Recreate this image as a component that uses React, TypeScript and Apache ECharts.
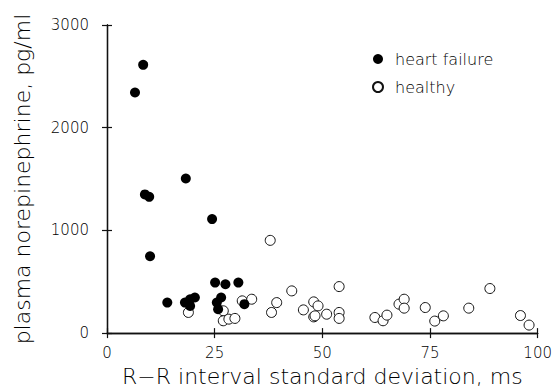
import React, { useEffect, useRef } from "react";
import * as echarts from "echarts";

const hfX = [6.5, 8.4, 8.8, 9.8, 18.3, 24.4, 10.0, 25.1, 27.5, 30.5, 14.0, 18.1, 19.3, 20.4, 19.3, 26.5, 25.5, 25.8, 31.9];
const hfY = [2343, 2612, 1350, 1327, 1505, 1110, 748, 492, 476, 492, 297, 297, 330, 347, 265, 347, 297, 233, 282];

const healthyX = [37.9, 18.9, 27.0, 27.0, 28.3, 29.7, 31.4, 33.6, 39.4, 38.2, 42.9, 45.6, 48.0, 49.0, 48.0, 48.3, 51.0, 53.9, 53.9, 53.9, 62.2, 64.1, 65.0, 67.8, 69.0, 69.0, 73.9, 76.1, 78.1, 84.0, 88.9, 96.0, 98.0];
const healthyY = [903, 201, 217, 120, 136, 143, 314, 330, 297, 201, 411, 226, 304, 265, 158, 168, 184, 453, 201, 143, 152, 120, 175, 282, 330, 243, 249, 117, 168, 243, 434, 171, 78];

const xTicks = [0, 25, 50, 75, 100];
const yTicks = [0, 1000, 2000, 3000];

const FONT = "DejaVu Sans";

export default function App() {
  const ref = useRef<HTMLDivElement>(null);
  useEffect(() => {
    if (!ref.current) return;
    const chart = echarts.init(ref.current, null, { renderer: "svg" });
    const axisLine = { show: true, lineStyle: { color: "#111", width: 1.3 } };
    const axisTick = { show: true, inside: false, length: 5, lineStyle: { color: "#111", width: 1.2 } };
    chart.setOption({
      animation: false,
      backgroundColor: "#fff",
      grid: { left: 107, right: 17, top: 25, bottom: 58 },
      legend: {
        orient: "vertical",
        left: 367,
        top: 46,
        itemWidth: 10,
        itemHeight: 10,
        itemGap: 12,
        textStyle: { fontFamily: FONT, fontSize: 16, color: "#000", fontWeight: 300, padding: [0, 0, 0, 7] },
        data: [
          { name: "heart failure", icon: "circle" },
          { name: "healthy", icon: "circle" },
        ],
      },
      xAxis: [
        {
          type: "value",
          position: "bottom",
          min: 0,
          max: 100,
          interval: 25,
          axisLine,
          axisTick,
          splitLine: { show: false },
          axisLabel: {
            fontFamily: FONT,
            fontSize: 15,
            color: "#000",
            fontWeight: 300,
            margin: 12,
            formatter: (v: number) => (xTicks.includes(v) ? String(v) : ""),
          },
          name: "R\u2212R interval standard deviation, ms",
          nameLocation: "middle",
          nameGap: 30,
          nameTextStyle: { fontFamily: FONT, fontSize: 22, color: "#000", fontWeight: 300 },
        },
        {
          type: "value",
          position: "top",
          min: 0,
          max: 100,
          interval: 25,
          axisLine,
          axisTick,
          splitLine: { show: false },
          axisLabel: { show: false },
        },
      ],
      yAxis: [
        {
          type: "value",
          position: "left",
          min: 0,
          max: 3000,
          interval: 1000,
          axisLine,
          axisTick,
          splitLine: { show: false },
          axisLabel: {
            fontFamily: FONT,
            fontSize: 15,
            color: "#000",
            fontWeight: 300,
            margin: 18,
            formatter: (v: number) => (yTicks.includes(v) ? String(v) : ""),
          },
          name: "plasma norepinephrine, pg/ml",
          nameLocation: "middle",
          nameGap: 74,
          nameTextStyle: { fontFamily: FONT, fontSize: 22, color: "#000", fontWeight: 300 },
        },
        {
          type: "value",
          position: "right",
          min: 0,
          max: 3000,
          interval: 1000,
          axisLine,
          axisTick,
          splitLine: { show: false },
          axisLabel: { show: false },
        },
      ],
      series: [
        {
          name: "healthy",
          type: "scatter",
          xAxisIndex: 0,
          yAxisIndex: 0,
          symbol: "circle",
          symbolSize: 10,
          itemStyle: { color: "#fff", borderColor: "#111", borderWidth: 1, opacity: 1 },
          data: healthyX.map((x, i) => [x, healthyY[i]]),
          z: 2,
        },
        {
          name: "heart failure",
          type: "scatter",
          xAxisIndex: 0,
          yAxisIndex: 0,
          symbol: "circle",
          symbolSize: 10,
          itemStyle: { color: "#000", opacity: 1 },
          data: hfX.map((x, i) => [x, hfY[i]]),
          z: 3,
        },
      ],
    });
    return () => chart.dispose();
  }, []);
  return <div ref={ref} style={{ width: 555, height: 392, position: "absolute", left: 0, top: 0 }} />;
}
